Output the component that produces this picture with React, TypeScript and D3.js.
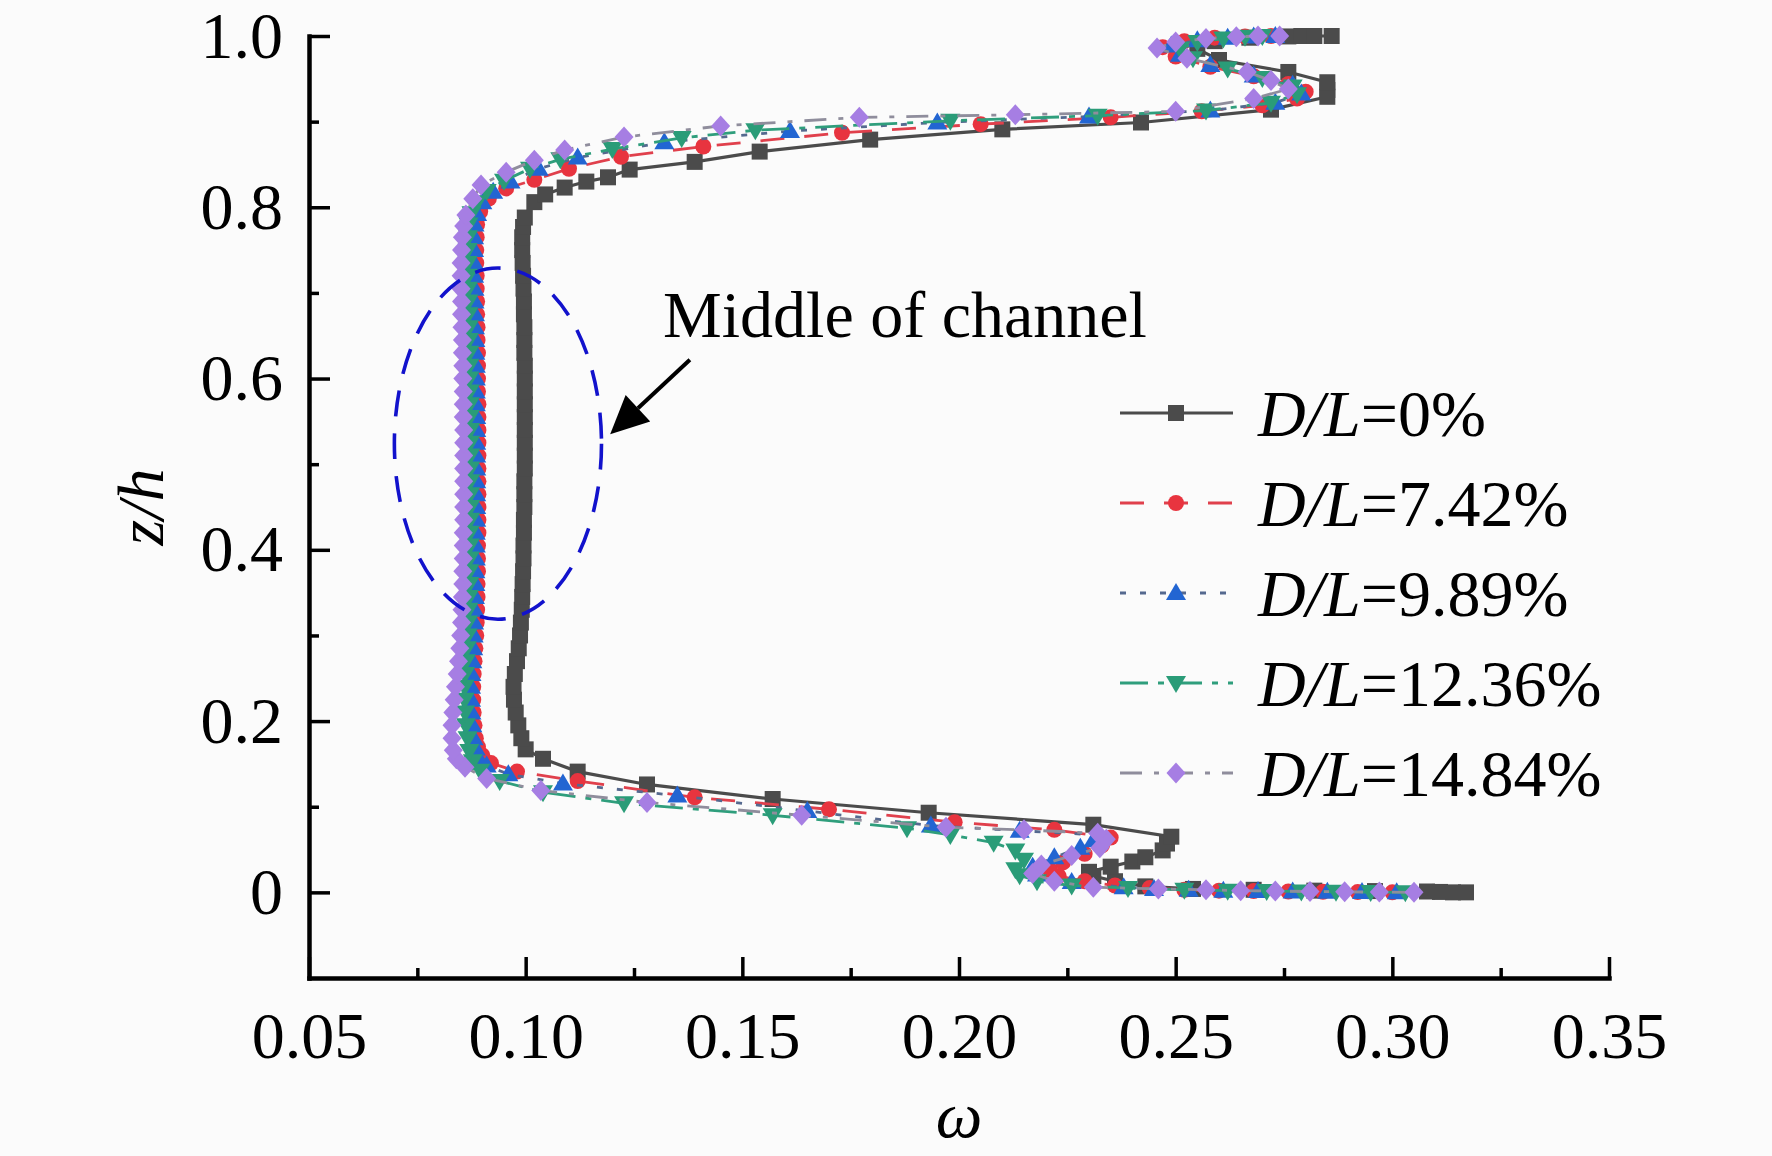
import { useEffect, useRef } from 'react'
import * as d3 from 'd3'

type Pt = [number, number] // [omega, z/h]

const seriesNames = ['0%', '7.42%', '9.89%', '12.36%', '14.84%']

const xTicks = [0.05, 0.1, 0.15, 0.2, 0.25, 0.3, 0.35]
const xMinorTicks = [0.075, 0.125, 0.175, 0.225, 0.275, 0.325]
const yTicks = [0, 0.2, 0.4, 0.6, 0.8, 1.0]
const yMinorTicks = [0.1, 0.3, 0.5, 0.7, 0.9]

const dl0: Pt[] = [
  [0.317, 0.0], [0.314, 0.0], [0.311, 0.0005], [0.308, 0.001],
  [0.296, 0.0015], [0.282, 0.002], [0.268, 0.003], [0.254, 0.004], [0.243, 0.007],
  [0.236, 0.013], [0.231, 0.019], [0.23, 0.024], [0.235, 0.03], [0.24, 0.036], [0.243, 0.041],
  [0.247, 0.049], [0.248, 0.057], [0.249, 0.065],
  [0.231, 0.079], [0.193, 0.093], [0.157, 0.109], [0.128, 0.126], [0.112, 0.141], [0.104, 0.156], [0.1, 0.167],
  [0.099, 0.18], [0.0983, 0.195], [0.0977, 0.21], [0.0973, 0.225], [0.0972, 0.24], [0.0975, 0.255],
  [0.098, 0.27], [0.0984, 0.285], [0.0987, 0.3], [0.0989, 0.315], [0.0991, 0.33], [0.0992, 0.345],
  [0.0993, 0.36], [0.0994, 0.375], [0.0995, 0.39], [0.0995, 0.405], [0.0996, 0.42], [0.0996, 0.435],
  [0.0997, 0.45], [0.0997, 0.465], [0.0997, 0.48], [0.0998, 0.495], [0.0998, 0.51], [0.0998, 0.525],
  [0.0998, 0.54], [0.0998, 0.555], [0.0998, 0.57], [0.0998, 0.585], [0.0998, 0.6], [0.0998, 0.615],
  [0.0997, 0.63], [0.0997, 0.645], [0.0997, 0.66], [0.0996, 0.675], [0.0996, 0.69], [0.0995, 0.705],
  [0.0994, 0.72], [0.0993, 0.735], [0.0992, 0.75], [0.0992, 0.765], [0.0994, 0.777],
  [0.0998, 0.788], [0.102, 0.806], [0.1045, 0.815], [0.109, 0.823], [0.114, 0.83], [0.119, 0.835],
  [0.124, 0.844], [0.139, 0.853], [0.154, 0.865], [0.1795, 0.879], [0.21, 0.891], [0.242, 0.899],
  [0.272, 0.914], [0.285, 0.929], [0.285, 0.937], [0.285, 0.946], [0.276, 0.958], [0.26, 0.972],
  [0.255, 0.985], [0.259, 0.994], [0.267, 0.998], [0.276, 0.9995], [0.279, 1.0], [0.282, 1.0], [0.286, 1.0],
]

const dl742: Pt[] = [
  [0.3, 0.0], [0.292, 0.0003], [0.284, 0.0006], [0.276, 0.001], [0.268, 0.0015], [0.26, 0.002],
  [0.252, 0.003], [0.244, 0.005], [0.236, 0.008], [0.229, 0.013], [0.223, 0.019], [0.221, 0.026],
  [0.224, 0.035], [0.229, 0.045], [0.233, 0.055], [0.235, 0.064],
  [0.222, 0.073], [0.199, 0.082], [0.17, 0.097], [0.139, 0.111], [0.112, 0.13], [0.098, 0.141],
  [0.092, 0.151], [0.09, 0.16], [0.089, 0.17],
  [0.0885, 0.18], [0.0882, 0.195], [0.088, 0.21], [0.0879, 0.225], [0.0879, 0.24], [0.088, 0.255],
  [0.0882, 0.27], [0.0884, 0.285], [0.0886, 0.3], [0.0887, 0.315], [0.0888, 0.33], [0.0889, 0.345],
  [0.0889, 0.36], [0.089, 0.375], [0.089, 0.39], [0.089, 0.405], [0.0891, 0.42], [0.0891, 0.435],
  [0.0891, 0.45], [0.0891, 0.465], [0.0891, 0.48], [0.0891, 0.495], [0.0891, 0.51], [0.0891, 0.525],
  [0.0891, 0.54], [0.0891, 0.555], [0.0891, 0.57], [0.089, 0.585], [0.089, 0.6], [0.089, 0.615],
  [0.089, 0.63], [0.0889, 0.645], [0.0889, 0.66], [0.0888, 0.675], [0.0888, 0.69], [0.0887, 0.705],
  [0.0887, 0.72], [0.0886, 0.735], [0.0886, 0.75], [0.0887, 0.765], [0.0888, 0.78],
  [0.0895, 0.795], [0.0915, 0.81], [0.0955, 0.822], [0.102, 0.832], [0.11, 0.845], [0.122, 0.859],
  [0.141, 0.871], [0.173, 0.887], [0.205, 0.897], [0.235, 0.905], [0.256, 0.912], [0.27, 0.919],
  [0.278, 0.927], [0.28, 0.935], [0.276, 0.944], [0.268, 0.953], [0.258, 0.964], [0.25, 0.976],
  [0.247, 0.987], [0.252, 0.994], [0.259, 0.998], [0.266, 0.9995], [0.272, 1.0],
]

const dl989: Pt[] = [
  [0.301, 0.0], [0.293, 0.0003], [0.285, 0.0006], [0.277, 0.001], [0.269, 0.0015], [0.261, 0.002],
  [0.253, 0.003], [0.245, 0.004], [0.238, 0.006], [0.226, 0.012], [0.218, 0.021], [0.217, 0.03],
  [0.222, 0.041], [0.228, 0.052], [0.231, 0.061], [0.232, 0.067],
  [0.214, 0.072], [0.1935, 0.078], [0.165, 0.095], [0.135, 0.113], [0.1086, 0.127], [0.096, 0.138],
  [0.091, 0.148], [0.089, 0.158], [0.0885, 0.168],
  [0.088, 0.18], [0.0877, 0.195], [0.0875, 0.21], [0.0874, 0.225], [0.0874, 0.24], [0.0875, 0.255],
  [0.0877, 0.27], [0.0879, 0.285], [0.088, 0.3], [0.0881, 0.315], [0.0882, 0.33], [0.0883, 0.345],
  [0.0884, 0.36], [0.0884, 0.375], [0.0885, 0.39], [0.0885, 0.405], [0.0885, 0.42], [0.0886, 0.435],
  [0.0886, 0.45], [0.0886, 0.465], [0.0886, 0.48], [0.0886, 0.495], [0.0886, 0.51], [0.0886, 0.525],
  [0.0886, 0.54], [0.0886, 0.555], [0.0885, 0.57], [0.0885, 0.585], [0.0885, 0.6], [0.0885, 0.615],
  [0.0884, 0.63], [0.0884, 0.645], [0.0883, 0.66], [0.0883, 0.675], [0.0882, 0.69], [0.0882, 0.705],
  [0.0881, 0.72], [0.0881, 0.735], [0.0881, 0.75], [0.0881, 0.765], [0.0882, 0.78],
  [0.0888, 0.792], [0.09, 0.806], [0.0925, 0.818], [0.0965, 0.83], [0.103, 0.845], [0.112, 0.858],
  [0.132, 0.876], [0.161, 0.889], [0.195, 0.899], [0.23, 0.906], [0.258, 0.913], [0.273, 0.922],
  [0.279, 0.933], [0.277, 0.943], [0.268, 0.954], [0.258, 0.966], [0.251, 0.978], [0.249, 0.989],
  [0.255, 0.995], [0.262, 0.998], [0.268, 0.9995], [0.273, 1.0],
]

const dl1236: Pt[] = [
  [0.303, 0.0], [0.295, 0.0003], [0.287, 0.0006], [0.279, 0.001], [0.271, 0.0015], [0.262, 0.002],
  [0.252, 0.003], [0.239, 0.005], [0.226, 0.008], [0.218, 0.013], [0.214, 0.02], [0.213, 0.027],
  [0.215, 0.038], [0.213, 0.049], [0.208, 0.058], [0.198, 0.067],
  [0.188, 0.075], [0.157, 0.09], [0.1227, 0.104], [0.104, 0.117], [0.094, 0.13], [0.0895, 0.142],
  [0.0878, 0.153], [0.087, 0.165],
  [0.0866, 0.18], [0.0862, 0.195], [0.086, 0.21], [0.0859, 0.225], [0.0859, 0.24], [0.086, 0.255],
  [0.0862, 0.27], [0.0864, 0.285], [0.0866, 0.3], [0.0867, 0.315], [0.0868, 0.33], [0.0869, 0.345],
  [0.087, 0.36], [0.087, 0.375], [0.0871, 0.39], [0.0871, 0.405], [0.0871, 0.42], [0.0872, 0.435],
  [0.0872, 0.45], [0.0872, 0.465], [0.0872, 0.48], [0.0872, 0.495], [0.0872, 0.51], [0.0872, 0.525],
  [0.0872, 0.54], [0.0871, 0.555], [0.0871, 0.57], [0.0871, 0.585], [0.087, 0.6], [0.087, 0.615],
  [0.087, 0.63], [0.0869, 0.645], [0.0869, 0.66], [0.0868, 0.675], [0.0868, 0.69], [0.0867, 0.705],
  [0.0867, 0.72], [0.0866, 0.735], [0.0866, 0.75], [0.0867, 0.765], [0.0868, 0.78],
  [0.0875, 0.793], [0.0888, 0.806], [0.091, 0.819], [0.095, 0.831], [0.101, 0.845], [0.108, 0.856],
  [0.12, 0.868], [0.136, 0.881], [0.153, 0.89], [0.198, 0.901], [0.232, 0.907], [0.257, 0.913],
  [0.272, 0.922], [0.278, 0.932], [0.277, 0.941], [0.27, 0.951], [0.262, 0.962], [0.254, 0.974],
  [0.251, 0.985], [0.255, 0.993], [0.261, 0.997], [0.266, 0.999], [0.27, 1.0],
]

const dl1484: Pt[] = [
  [0.305, 0.0], [0.297, 0.0003], [0.289, 0.0006], [0.281, 0.001], [0.273, 0.0015], [0.265, 0.002],
  [0.257, 0.003], [0.246, 0.004], [0.231, 0.006], [0.222, 0.013], [0.217, 0.022], [0.219, 0.032],
  [0.226, 0.043], [0.2325, 0.052], [0.234, 0.062], [0.232, 0.069],
  [0.215, 0.073], [0.197, 0.076], [0.1637, 0.09], [0.128, 0.105], [0.1035, 0.119], [0.091, 0.133],
  [0.086, 0.146], [0.084, 0.156], [0.0833, 0.166],
  [0.083, 0.18], [0.083, 0.195], [0.0832, 0.21], [0.0835, 0.225], [0.0838, 0.24], [0.0842, 0.255],
  [0.0845, 0.27], [0.0848, 0.285], [0.085, 0.3], [0.0852, 0.315], [0.0853, 0.33], [0.0854, 0.345],
  [0.0855, 0.36], [0.0855, 0.375], [0.0856, 0.39], [0.0856, 0.405], [0.0856, 0.42], [0.0857, 0.435],
  [0.0857, 0.45], [0.0857, 0.465], [0.0857, 0.48], [0.0857, 0.495], [0.0857, 0.51], [0.0857, 0.525],
  [0.0857, 0.54], [0.0856, 0.555], [0.0856, 0.57], [0.0856, 0.585], [0.0855, 0.6], [0.0855, 0.615],
  [0.0854, 0.63], [0.0854, 0.645], [0.0853, 0.66], [0.0852, 0.675], [0.0852, 0.69], [0.0851, 0.705],
  [0.0851, 0.72], [0.0851, 0.735], [0.0852, 0.75], [0.0854, 0.765], [0.0857, 0.778],
  [0.0862, 0.791], [0.0878, 0.81], [0.0897, 0.826], [0.0955, 0.841], [0.102, 0.855], [0.109, 0.867],
  [0.1227, 0.882], [0.145, 0.895], [0.177, 0.905], [0.213, 0.908], [0.25, 0.912], [0.268, 0.927],
  [0.276, 0.938], [0.272, 0.948], [0.2665, 0.958], [0.2526, 0.974], [0.2457, 0.986], [0.25, 0.993],
  [0.257, 0.997], [0.264, 0.999], [0.269, 1.0], [0.274, 1.0],
]

const allSeries = [dl0, dl742, dl989, dl1236, dl1484]

// annotation anchors, in data units
const ellipseCenter: Pt = [0.0936, 0.524]
const ellipseRadii: Pt = [0.0239, 0.205]
const arrowTail: Pt = [0.1379, 0.622]
const arrowTip: Pt = [0.1195, 0.535]
const notePos: Pt = [0.1317, 0.648]

const markerFill = ['#4b4b4b', '#e8343f', '#2265d2', '#2a9c78', '#a67ee3']
const lineStroke = ['#4b4b4b', '#e0404c', '#55698f', '#2f9e7c', '#8f8d9c']
const lineDash = ['none', '24,20', '6,14', '28,10,6,10', '22,12,5,12']
const markerPath = [
  'M-8,-8h16v16h-16z',
  d3.symbol(d3.symbolCircle, 201)() as string,
  'M0,-10L10,7L-10,7Z',
  'M0,10L10,-7L-10,-7Z',
  'M0,-10.5L9.5,0L0,10.5L-9.5,0Z',
]

const FONT = '"Liberation Serif", "Times New Roman", serif'

export default function App() {
  const svgRef = useRef<SVGSVGElement>(null)

  useEffect(() => {
    document.body.style.margin = '0'
    if (!svgRef.current) return
    const svg = d3.select(svgRef.current)
    svg.selectAll('*').remove()

    const width = 1772
    const height = 1156

    svg.append('rect').attr('width', width).attr('height', height).attr('fill', '#fbfbfb')

    const x = d3.scaleLinear().domain([0.05, 0.35]).range([309, 1609])
    const y = d3.scaleLinear().domain([-0.1, 1.0]).range([978, 36])

    // series: line first, then its symbols
    const line = d3
      .line<Pt>()
      .x((d) => x(d[0]))
      .y((d) => y(d[1]))

    allSeries.forEach((pts, i) => {
      const g = svg.append('g')
      g.append('path')
        .datum(pts)
        .attr('d', line)
        .attr('fill', 'none')
        .attr('stroke', lineStroke[i])
        .attr('stroke-width', i === 0 ? 3.2 : 2.8)
        .attr('stroke-dasharray', lineDash[i])
      g.selectAll('path.sym')
        .data(pts)
        .enter()
        .append('path')
        .attr('class', 'sym')
        .attr('d', markerPath[i])
        .attr('transform', (d) => `translate(${x(d[0])},${y(d[1])})`)
        .attr('fill', markerFill[i])
    })

    // axes
    const styleAxis = (g: d3.Selection<SVGGElement, unknown, null, undefined>) => {
      g.select('.domain').attr('stroke', '#000').attr('stroke-width', 4.5).attr('stroke-linecap', 'square')
      g.selectAll('.tick line').attr('stroke', '#000').attr('stroke-width', 3.5)
      g.selectAll('.tick text')
        .attr('fill', '#000')
        .attr('font-family', FONT)
        .attr('font-size', 66)
    }

    const xAxisG = svg
      .append('g')
      .attr('transform', `translate(0,${y(-0.1)})`)
      .call(
        d3.axisBottom(x).tickValues(xTicks).tickSizeInner(-21).tickSizeOuter(0).tickPadding(33)
          .tickFormat((d) => d3.format('.2f')(d as number))
      )
    styleAxis(xAxisG)

    const xMinorG = svg
      .append('g')
      .attr('transform', `translate(0,${y(-0.1)})`)
      .call(d3.axisBottom(x).tickValues(xMinorTicks).tickSize(-10).tickFormat(() => ''))
    xMinorG.select('.domain').remove()
    xMinorG.selectAll('.tick line').attr('stroke', '#000').attr('stroke-width', 3.5)

    const yAxisG = svg
      .append('g')
      .attr('transform', `translate(${x(0.05)},0)`)
      .call(
        d3.axisLeft(y).tickValues(yTicks).tickSizeInner(-21).tickSizeOuter(0).tickPadding(26)
          .tickFormat((d) => ((d as number) === 0 ? '0' : d3.format('.1f')(d as number)))
      )
    styleAxis(yAxisG)

    const yMinorG = svg
      .append('g')
      .attr('transform', `translate(${x(0.05)},0)`)
      .call(d3.axisLeft(y).tickValues(yMinorTicks).tickSize(-10).tickFormat(() => ''))
    yMinorG.select('.domain').remove()
    yMinorG.selectAll('.tick line').attr('stroke', '#000').attr('stroke-width', 3.5)

    // axis titles
    svg.append('text')
      .attr('x', (x(0.05) + x(0.35)) / 2)
      .attr('y', 1137)
      .attr('text-anchor', 'middle')
      .attr('font-family', FONT)
      .attr('font-style', 'italic')
      .attr('font-size', 66)
      .text('ω')

    svg.append('text')
      .attr('transform', `translate(163,${(y(-0.1) + y(1)) / 2}) rotate(-90)`)
      .attr('text-anchor', 'middle')
      .attr('font-family', FONT)
      .attr('font-style', 'italic')
      .attr('font-size', 66)
      .text('z/h')

    // annotation: dashed ellipse, arrow, note
    svg.append('ellipse')
      .attr('cx', x(ellipseCenter[0]))
      .attr('cy', y(ellipseCenter[1]))
      .attr('rx', x(ellipseCenter[0] + ellipseRadii[0]) - x(ellipseCenter[0]))
      .attr('ry', y(ellipseCenter[1] - ellipseRadii[1]) - y(ellipseCenter[1]))
      .attr('fill', 'none')
      .attr('stroke', '#1212cc')
      .attr('stroke-width', 3.6)
      .attr('stroke-dasharray', '26,17')

    const tx = x(arrowTail[0]), ty = y(arrowTail[1])
    const px = x(arrowTip[0]), py = y(arrowTip[1])
    const len = Math.hypot(px - tx, py - ty)
    const ux = (px - tx) / len, uy = (py - ty) / len
    const headLen = 38, headHalf = 18
    const bx = px - ux * headLen, by = py - uy * headLen
    svg.append('line')
      .attr('x1', tx).attr('y1', ty).attr('x2', bx).attr('y2', by)
      .attr('stroke', '#000').attr('stroke-width', 4)
    svg.append('path')
      .attr('d', `M${px},${py}L${bx - uy * headHalf},${by + ux * headHalf}L${bx + uy * headHalf},${by - ux * headHalf}Z`)
      .attr('fill', '#000')

    svg.append('text')
      .attr('x', x(notePos[0]))
      .attr('y', y(notePos[1]))
      .attr('font-family', FONT)
      .attr('font-size', 66)
      .attr('fill', '#000')
      .text('Middle of channel')

    // legend
    const legend = svg.append('g').attr('transform', 'translate(1120,413)')
    seriesNames.forEach((name, i) => {
      const row = legend.append('g').attr('transform', `translate(0,${i * 90})`)
      row.append('line')
        .attr('x1', 0).attr('x2', 113).attr('y1', 0).attr('y2', 0)
        .attr('stroke', lineStroke[i])
        .attr('stroke-width', i === 0 ? 3.2 : 2.8)
        .attr('stroke-dasharray', lineDash[i])
      row.append('path')
        .attr('d', markerPath[i])
        .attr('transform', 'translate(56,0)')
        .attr('fill', markerFill[i])
      const t = row.append('text')
        .attr('x', 138)
        .attr('y', 23)
        .attr('font-family', FONT)
        .attr('font-size', 66)
        .attr('fill', '#000')
      t.append('tspan').attr('font-style', 'italic').text('D/L')
      t.append('tspan').text(`=${name}`)
    })
  }, [])

  return <svg ref={svgRef} width={1772} height={1156} style={{ display: 'block' }} />
}
